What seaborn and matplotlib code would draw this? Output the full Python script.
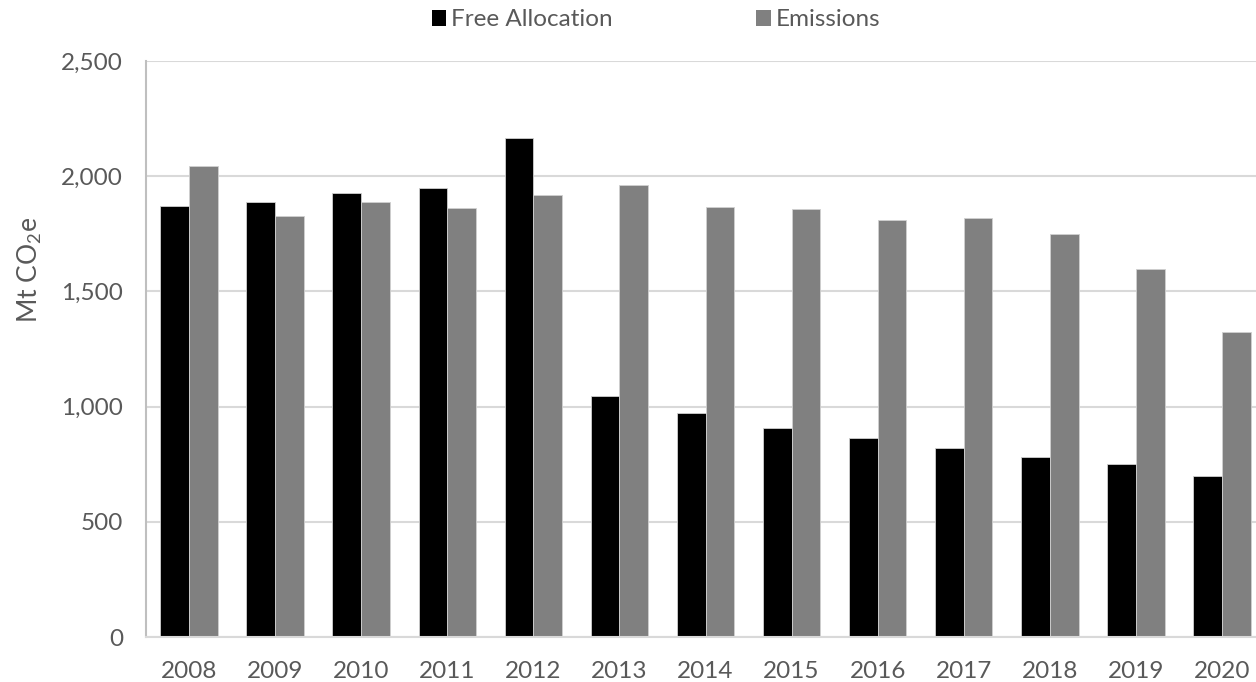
import matplotlib
matplotlib.use("Agg")
import matplotlib.pyplot as plt
from matplotlib.patches import Patch
import seaborn as sns
import pandas as pd

years = ["2008", "2009", "2010", "2011", "2012", "2013", "2014",
         "2015", "2016", "2017", "2018", "2019", "2020"]
free_allocation = [1872, 1889, 1927, 1950, 2165, 1045, 971, 908, 864, 819, 780, 751, 699]
emissions = [2045, 1827, 1889, 1863, 1918, 1960, 1866, 1859, 1810, 1817, 1748, 1596, 1322]
series_names = ["Free Allocation", "Emissions"]
series_colors = ["#000000", "#808080"]
y_ticks = [0, 500, 1000, 1500, 2000, 2500]
y_label = "Mt CO$_2$e"

df = pd.DataFrame({
    "year": years * 2,
    "value": free_allocation + emissions,
    "series": [series_names[0]] * len(years) + [series_names[1]] * len(years),
})

sns.set_theme(style="white")
FONT = "Lato"
plt.rcParams["font.family"] = [FONT, "DejaVu Sans"]
plt.rcParams["mathtext.fontset"] = "custom"
plt.rcParams["mathtext.rm"] = FONT
plt.rcParams["mathtext.it"] = FONT
plt.rcParams["mathtext.default"] = "regular"

TXT = "#595959"
fig = plt.figure(figsize=(12.56, 6.82), dpi=100)
W, H = 1256, 682
ax = fig.add_axes([146 / W, 1 - 637 / H, 1119 / W, 576 / H])

sns.barplot(data=df, x="year", y="value", hue="series", order=years,
            hue_order=series_names, palette=series_colors, width=0.667,
            gap=0, ax=ax, legend=False, saturation=1)
for p in ax.patches:
    p.set_edgecolor("#d0d0d0")
    p.set_linewidth(0.6)

ax.set_xlim(-0.5, len(years) - 0.5)
ax.set_ylim(0, 2500)
ax.set_yticks(y_ticks)
ax.set_yticklabels([f"{v:,}" for v in y_ticks])
ax.yaxis.grid(True, color="#d9d9d9", linewidth=1.5)
ax.set_axisbelow(True)
ax.tick_params(axis="both", length=0, labelsize=17.5, labelcolor=TXT)
ax.tick_params(axis="y", pad=16.5)
ax.tick_params(axis="x", pad=17)
ax.set_xlabel("")
ax.set_ylabel(y_label, fontsize=19, color=TXT)
ax.yaxis.set_label_coords((44 - 146) / 1119, (637 - 270) / 576)

for s in ["top", "right"]:
    ax.spines[s].set_visible(False)
ax.spines["left"].set_color("#bfbfbf")
ax.spines["left"].set_linewidth(1.5)
ax.spines["bottom"].set_color("#d9d9d9")
ax.spines["bottom"].set_linewidth(1.5)

handles = [Patch(facecolor=c, edgecolor="none") for c in series_colors]
fig.legend(handles, series_names, loc="center", bbox_to_anchor=(656 / W, 1 - 20 / H),
           ncol=2, frameon=False, fontsize=17.5, labelcolor=TXT,
           handlelength=0.6, handleheight=0.6, handletextpad=0.2,
           columnspacing=5.9)

fig.savefig("out.png", dpi=100)
